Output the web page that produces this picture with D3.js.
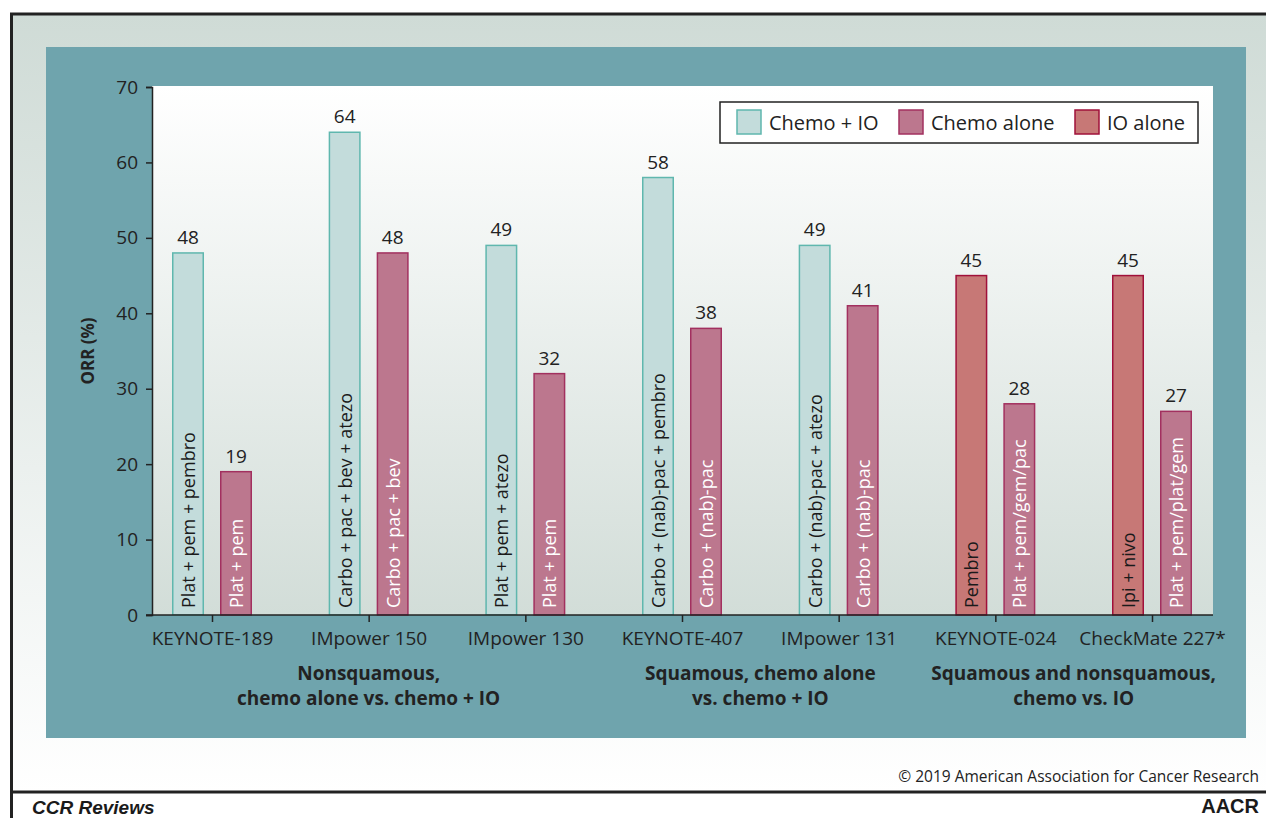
<!DOCTYPE html>
<html>
<head>
<meta charset="utf-8">
<script src="https://cdn.jsdelivr.net/npm/d3@7"></script>
<style>
  body { margin: 0; background: #fff; }
  svg { display: block; font-family: "Open Sans", sans-serif; }
</style>
</head>
<body>
<div id="chart"></div>
<script>
const categories = ["KEYNOTE-189", "IMpower 150", "IMpower 130", "KEYNOTE-407", "IMpower 131", "KEYNOTE-024", "CheckMate 227*"];
const firstTypes = ["Chemo + IO", "Chemo + IO", "Chemo + IO", "Chemo + IO", "Chemo + IO", "IO alone", "IO alone"];
const firstValues = [48, 64, 49, 58, 49, 45, 45];
const firstLabels = ["Plat + pem + pembro", "Carbo + pac + bev + atezo", "Plat + pem + atezo", "Carbo + (nab)-pac + pembro", "Carbo + (nab)-pac + atezo", "Pembro", "Ipi + nivo"];
const secondValues = [19, 48, 32, 38, 41, 28, 27];
const secondLabels = ["Plat + pem", "Carbo + pac + bev", "Plat + pem", "Carbo + (nab)-pac", "Carbo + (nab)-pac", "Plat + pem/gem/pac", "Plat + pem/plat/gem"];
const groups = [
  { lines: ["Nonsquamous,", "chemo alone vs. chemo + IO"], from: 0, to: 2 },
  { lines: ["Squamous, chemo alone", "vs. chemo + IO"], from: 3, to: 4 },
  { lines: ["Squamous and nonsquamous,", "chemo vs. IO"], from: 5, to: 6 }
];
const legendItems = ["Chemo + IO", "Chemo alone", "IO alone"];
const yTicks = [0, 10, 20, 30, 40, 50, 60, 70];

const fills = { "Chemo + IO": "#c3dcdb", "Chemo alone": "#bc778e", "IO alone": "#c77876" };
const strokes = { "Chemo + IO": "#5fb7ae", "Chemo alone": "#a2305f", "IO alone": "#a0103a" };
const inText = { "Chemo + IO": "#1a1a1a", "Chemo alone": "#ffffff", "IO alone": "#1a1a1a" };

const W = 1266, H = 818;
const svg = d3.select("#chart").append("svg").attr("width", W).attr("height", H);
const defs = svg.append("defs");

const g1 = defs.append("linearGradient").attr("id", "outerGrad").attr("x1", 0).attr("y1", 0).attr("x2", 0).attr("y2", 1);
g1.append("stop").attr("offset", "0%").attr("stop-color", "#cfdbd6");
g1.append("stop").attr("offset", "100%").attr("stop-color", "#ffffff");
const g2 = defs.append("linearGradient").attr("id", "plotGrad").attr("x1", 0).attr("y1", 0).attr("x2", 0).attr("y2", 1);
g2.append("stop").attr("offset", "0%").attr("stop-color", "#ffffff");
g2.append("stop").attr("offset", "100%").attr("stop-color", "#d2ddd8");

// frame
svg.append("rect").attr("x", 12).attr("y", 14).attr("width", W - 12).attr("height", 778).attr("fill", "url(#outerGrad)");
svg.append("rect").attr("x", 46).attr("y", 47).attr("width", 1200).attr("height", 691).attr("fill", "#6fa4ad");
svg.append("line").attr("x1", 10).attr("x2", W).attr("y1", 14).attr("y2", 14).attr("stroke", "#222").attr("stroke-width", 3);
svg.append("line").attr("x1", 11.5).attr("x2", 11.5).attr("y1", 13).attr("y2", H).attr("stroke", "#222").attr("stroke-width", 3);
svg.append("line").attr("x1", 10).attr("x2", W).attr("y1", 792).attr("y2", 792).attr("stroke", "#222").attr("stroke-width", 3);

const plotL = 152, plotR = 1213, plotT = 87, plotB = 615;
svg.append("rect").attr("x", plotL).attr("y", plotT - 1).attr("width", plotR - plotL).attr("height", plotB - plotT + 1).attr("fill", "url(#plotGrad)");

const y = d3.scaleLinear().domain([0, 70]).range([plotB, plotT]);
const x = d3.scalePoint().domain(categories).range([212, 1152]);
const inner = d3.scaleBand().domain([0, 1]).range([-40, 40]).paddingInner(1 / 3).paddingOuter(0);

const bars = [];
categories.forEach((c, i) => {
  bars.push({ cat: c, k: 0, type: firstTypes[i], value: firstValues[i], label: firstLabels[i] });
  bars.push({ cat: c, k: 1, type: "Chemo alone", value: secondValues[i], label: secondLabels[i] });
});

const barG = svg.append("g").selectAll("g").data(bars).join("g")
  .attr("transform", d => `translate(${x(d.cat) + inner(d.k)},0)`);
barG.append("rect")
  .attr("x", 0.75).attr("y", d => y(d.value))
  .attr("width", inner.bandwidth() - 1.5).attr("height", d => y(0) - y(d.value))
  .attr("fill", d => fills[d.type]).attr("stroke", d => strokes[d.type]).attr("stroke-width", 1.5);
barG.append("text")
  .attr("x", inner.bandwidth() / 2).attr("y", d => y(d.value) - 9)
  .attr("text-anchor", "middle").attr("font-size", 19).attr("fill", "#222")
  .text(d => d.value);
barG.append("text")
  .attr("transform", `translate(${inner.bandwidth() / 2 + 7},${plotB - 7}) rotate(-90)`)
  .attr("font-size", 18).attr("fill", d => inText[d.type])
  .text(d => d.label);

// axes
const yAxis = svg.append("g").attr("transform", `translate(${plotL},0)`)
  .call(d3.axisLeft(y).tickValues(yTicks).tickSize(6).tickPadding(8));
yAxis.select(".domain").attr("stroke", "#222").attr("stroke-width", 1.5);
yAxis.selectAll(".tick line").attr("stroke", "#222").attr("stroke-width", 1.5);
yAxis.selectAll("text").attr("font-size", 19).attr("fill", "#222").attr("font-family", "Open Sans");

const xAxis = svg.append("g").attr("transform", `translate(0,${plotB})`)
  .call(d3.axisBottom(x).tickSize(7).tickPadding(10).tickSizeOuter(0));
xAxis.select(".domain").attr("d", `M${plotL - 6},0H${plotR}`).attr("stroke", "#222").attr("stroke-width", 1.5);
xAxis.selectAll(".tick line").attr("stroke", "#222").attr("stroke-width", 1.5);
xAxis.selectAll("text").attr("font-size", 19).attr("fill", "#222").attr("font-family", "Open Sans");

svg.append("text")
  .attr("transform", `translate(94,${(plotT + plotB) / 2}) rotate(-90)`)
  .attr("text-anchor", "middle").attr("font-size", 17).attr("font-weight", 700).attr("fill", "#222")
  .text("ORR (%)");

groups.forEach(gr => {
  const cx = (x(categories[gr.from]) + x(categories[gr.to])) / 2;
  gr.lines.forEach((ln, j) => {
    svg.append("text").attr("x", cx).attr("y", 680 + j * 25)
      .attr("text-anchor", "middle").attr("font-size", 19).attr("font-weight", 700).attr("fill", "#222")
      .text(ln);
  });
});

// legend
const lg = svg.append("g");
lg.append("rect").attr("x", 720).attr("y", 102).attr("width", 478).attr("height", 41)
  .attr("fill", "#fff").attr("stroke", "#222").attr("stroke-width", 1.5);
const legendX = [737, 899, 1075];
legendItems.forEach((t, i) => {
  lg.append("rect").attr("x", legendX[i]).attr("y", 110).attr("width", 24).attr("height", 24)
    .attr("fill", fills[t]).attr("stroke", strokes[t]).attr("stroke-width", 1.5);
  lg.append("text").attr("x", legendX[i] + 32).attr("y", 130).attr("font-size", 20).attr("fill", "#222").text(t);
});

// footer
svg.append("text").attr("x", 1259).attr("y", 782).attr("text-anchor", "end")
  .attr("font-size", 15.5).attr("fill", "#222").text("\u00a9 2019 American Association for Cancer Research");
svg.append("text").attr("x", 32).attr("y", 814).attr("font-family", "Liberation Sans")
  .attr("font-size", 19).attr("font-weight", 700).attr("font-style", "italic").attr("fill", "#1a1a1a").text("CCR Reviews");
svg.append("text").attr("x", 1259).attr("y", 813).attr("text-anchor", "end").attr("font-family", "Liberation Sans")
  .attr("font-size", 20).attr("font-weight", 700).attr("fill", "#1a1a1a").text("AACR");
</script>
</body>
</html>
